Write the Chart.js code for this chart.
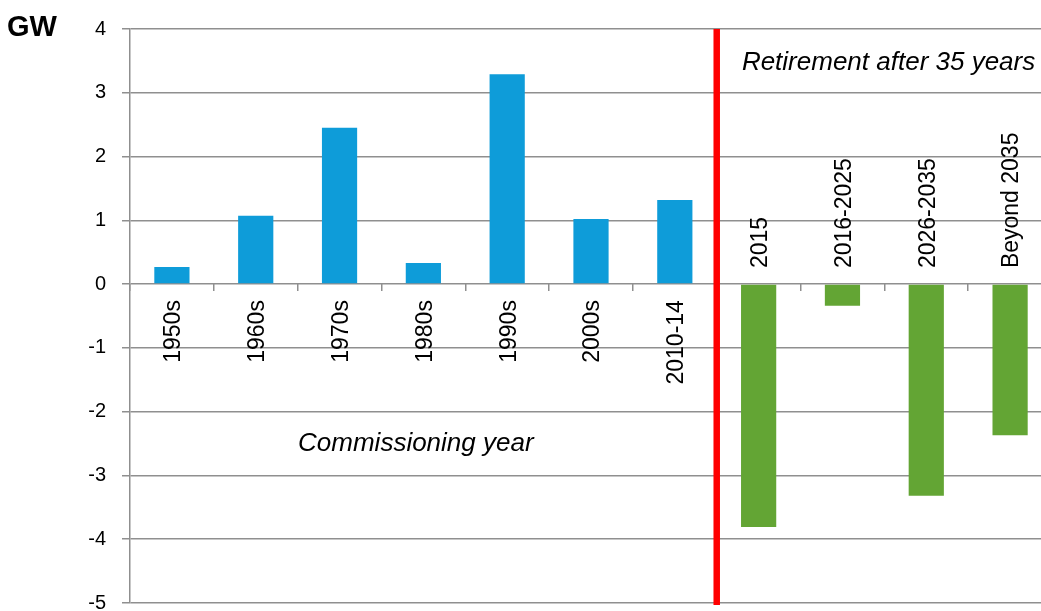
<!DOCTYPE html>
<html>
<head>
<meta charset="utf-8">
<script src="https://cdn.jsdelivr.net/npm/chart.js@4.4.1/dist/chart.umd.min.js"></script>
<style>
  html, body { margin: 0; padding: 0; background: #fff; overflow: hidden; }
  canvas { display: block; }
</style>
</head>
<body>
<canvas id="chart" width="1052" height="631"></canvas>
<script>
// values, GW
const commissioningLabels = ["1950s", "1960s", "1970s", "1980s", "1990s", "2000s", "2010-14"];
const commissioningValues = [0.27, 1.07, 2.45, 0.33, 3.29, 1.02, 1.32];
const retirementLabels = ["2015", "2016-2025", "2026-2035", "Beyond 2035"];
const retirementValues = [-3.81, -0.34, -3.32, -2.37];
const yMin = -5;
const yMax = 4;

const allLabels = commissioningLabels.concat(retirementLabels);
const allValues = commissioningValues.concat(retirementValues);
const barColors = allLabels.map((l, i) => i < commissioningLabels.length ? "#0e9cd9" : "#63a534");

const gridColor = "#8f8f8f";
const fontFamily = '"Liberation Sans", Arial, sans-serif';

// red divider, rotated category labels and the notes
const decorations = {
  id: "decorations",
  afterDatasetsDraw(chart) {
    const { ctx, chartArea, scales: { x, y } } = chart;
    const zero = y.getPixelForValue(0);
    const n = commissioningLabels.length;

    ctx.save();
    const split = (x.getPixelForValue(n - 1) + x.getPixelForValue(n)) / 2;
    ctx.strokeStyle = "#ff0000";
    ctx.lineWidth = 6.5;
    ctx.beginPath();
    ctx.moveTo(split, chartArea.top);
    ctx.lineTo(split, chartArea.bottom + 2);
    ctx.stroke();

    ctx.fillStyle = "#000";
    ctx.font = "23px " + fontFamily;
    ctx.textBaseline = "middle";
    allLabels.forEach((lab, i) => {
      const neg = allValues[i] < 0;
      ctx.save();
      ctx.translate(x.getPixelForValue(i) + 2, neg ? zero - 16 : zero + 16);
      ctx.rotate(-Math.PI / 2);
      ctx.textAlign = neg ? "left" : "right";
      ctx.fillText(lab, 0, 0);
      ctx.restore();
    });

    ctx.font = "italic 26px " + fontFamily;
    ctx.textAlign = "center";
    ctx.textBaseline = "alphabetic";
    ctx.fillText("Commissioning year", x.getPixelForValue(2.91), y.getPixelForValue(-2.61));
    ctx.fillText("Retirement after 35 years", x.getPixelForValue(8.55), y.getPixelForValue(3.35));

    ctx.font = "bold 29px " + fontFamily;
    ctx.textAlign = "left";
    ctx.fillText("GW", 7, 36);
    ctx.restore();
  }
};

new Chart(document.getElementById("chart"), {
  type: "bar",
  data: {
    labels: allLabels,
    datasets: [{
      data: allValues,
      backgroundColor: barColors,
      barPercentage: 0.42,
      categoryPercentage: 1
    }]
  },
  options: {
    responsive: false,
    animation: false,
    layout: { padding: { top: 29, bottom: 12, left: 0, right: 0 } },
    plugins: { legend: { display: false }, tooltip: { enabled: false } },
    scales: {
      x: {
        position: { y: 0 },
        ticks: { display: false },
        grid: {
          offset: true,
          drawOnChartArea: false,
          drawTicks: true,
          tickLength: 7,
          color: gridColor,
          lineWidth: 1.5
        },
        border: { display: false },
        afterFit(scale) { scale.height = 0; }
      },
      y: {
        min: yMin,
        max: yMax,
        ticks: {
          stepSize: 1,
          padding: 16,
          color: "#000",
          font: { family: fontFamily, size: 20 }
        },
        grid: { color: gridColor, lineWidth: 1.5, tickLength: 8 },
        border: { color: gridColor, width: 1.5 },
        afterFit(scale) { scale.width = 130; }
      }
    }
  },
  plugins: [decorations]
});
</script>
</body>
</html>
